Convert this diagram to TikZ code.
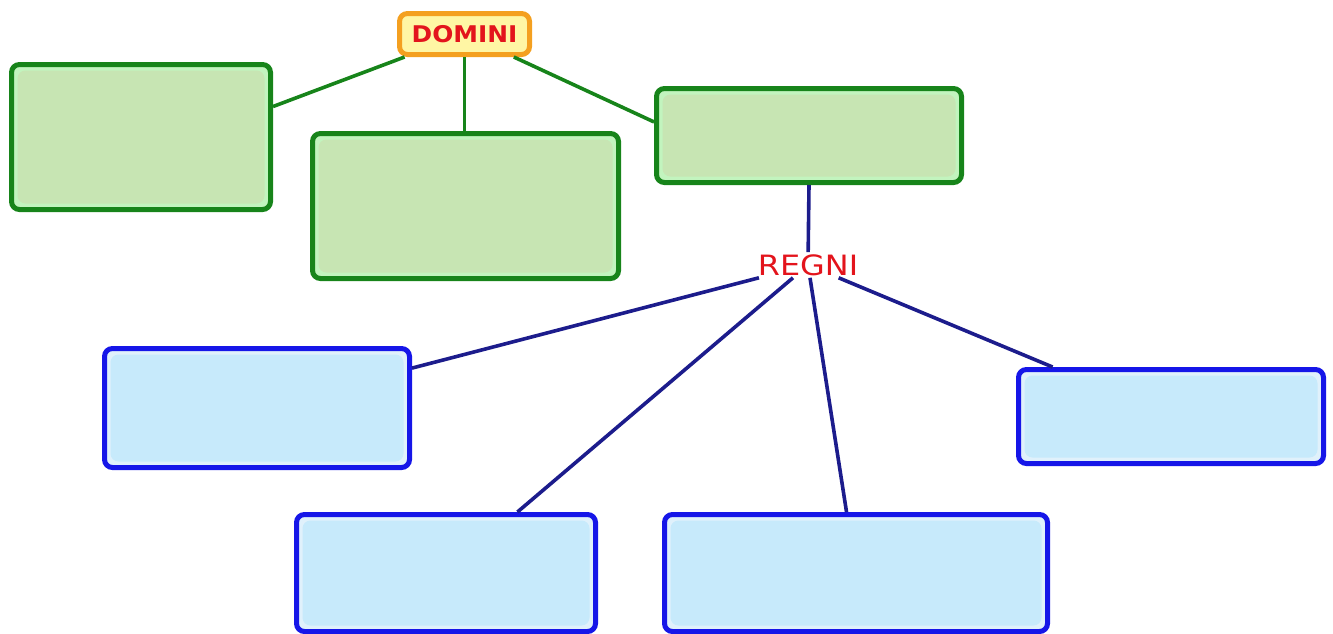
\documentclass[tikz,border=0pt]{standalone}
\usepackage{fontspec}
\newfontfamily\dvtitle[FakeStretch=1.08]{DejaVu Sans}
\newfontfamily\dvwide[FakeStretch=1.14]{DejaVu Sans}
\definecolor{gline}{HTML}{17841A}
\definecolor{gframe}{HTML}{C2F4BE}
\definecolor{gfill}{HTML}{C7E5B3}
\definecolor{bline}{HTML}{1616E8}
\definecolor{bframe}{HTML}{E0F1FB}
\definecolor{bfill}{HTML}{C7EAFB}
\definecolor{navy}{HTML}{1C1C8C}
\definecolor{orangeline}{HTML}{F4A020}
\definecolor{yellowfill}{HTML}{FFF6A4}
\definecolor{titlered}{HTML}{E3141C}
\tikzset{
  inset/.style={path picture={
      \fill[#1] ([shift={(6pt,-6pt)}]path picture bounding box.north west)
        rectangle ([shift={(-6pt,6pt)}]path picture bounding box.south east);}},
  greenbox/.style={draw=gline, line width=5pt, fill=gframe, rounded corners=8pt,
    inner sep=0pt, inset=gfill},
  bluebox/.style={draw=bline, line width=5pt, fill=bframe, rounded corners=8pt,
    inner sep=0pt, inset=bfill},
  titlebox/.style={draw=orangeline, line width=5pt, fill=yellowfill, rounded corners=8pt,
    inner sep=0pt, font=\dvtitle\bfseries\fontsize{23}{25}\selectfont, text=titlered},
  gconn/.style={gline, line width=3.6pt},
  bconn/.style={navy, line width=3.6pt}
}
\begin{document}
\begin{tikzpicture}[x=1pt, y=-1pt]
\useasboundingbox (0,0) rectangle (1333,633);
% top level
\node[titlebox, minimum width=130pt, minimum height=41pt] (domini) at (464.5,34) {DOMINI};
% domain boxes
\node[greenbox, minimum width=259pt, minimum height=145pt] (g1) at (141,137) {};
\node[greenbox, minimum width=306pt, minimum height=145pt] (g2) at (465.5,206) {};
\node[greenbox, minimum width=305pt, minimum height=94pt] (g3) at (809,135.5) {};
% kingdoms
\node[text=titlered, font=\dvwide\fontsize{28}{30}\selectfont, inner sep=2pt] (regni) at (808,265) {REGNI};
\node[bluebox, minimum width=305pt, minimum height=119pt] (b1) at (257,408) {};
\node[bluebox, minimum width=305pt, minimum height=94pt] (b2) at (1171,416.5) {};
\node[bluebox, minimum width=299pt, minimum height=117pt] (b3) at (446,573) {};
\node[bluebox, minimum width=383pt, minimum height=117pt] (b4) at (856,573) {};
% connectors
\draw[gconn] (domini.201) -- (g1.13.6);
\draw[gconn] (domini.south) -- (domini.south |- g2.north);
\draw[gconn] (domini.335.5) -- (g3.175);
\draw[bconn] (g3.south) -- (regni);
\draw[bconn] (regni) -- (b1);
\draw[bconn] (regni) -- (b2);
\draw[bconn] (regni) -- (b3);
\draw[bconn] (regni) -- (b4);
\end{tikzpicture}
\end{document}
